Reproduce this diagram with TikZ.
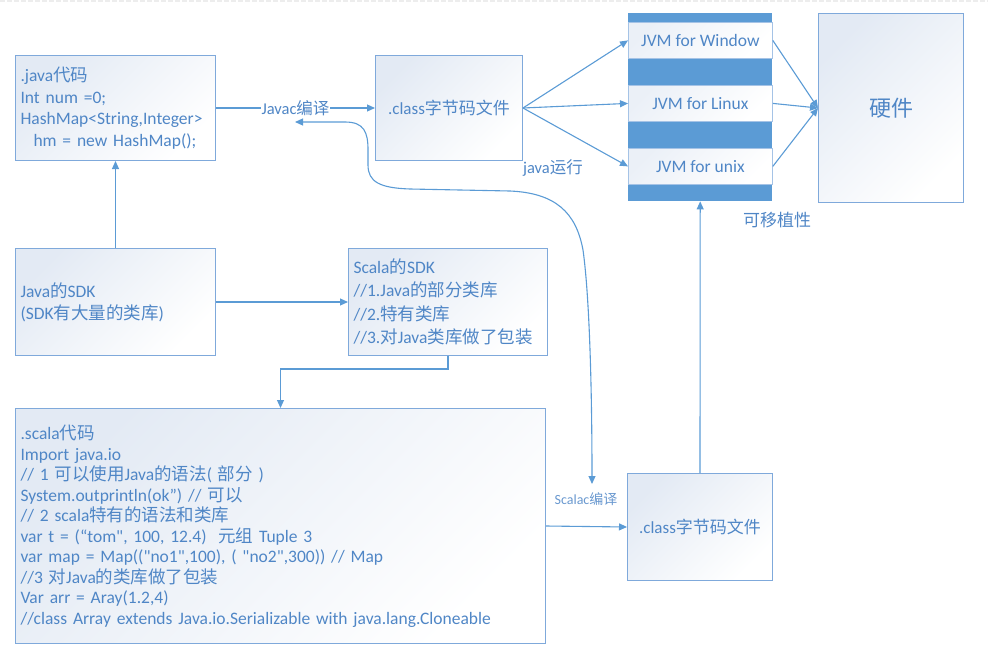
\documentclass[tikz,border=0pt]{standalone}
\usepackage{fontspec}
\setmainfont{Carlito}[Ligatures=TeXOff]
\newfontfamily\cjk{Noto Sans CJK SC}
\usetikzlibrary{arrows.meta}
\definecolor{txt}{HTML}{4F86C6}
\definecolor{bline}{HTML}{7FA9DB}
\definecolor{arrc}{HTML}{5B9BD5}
\definecolor{btop}{HTML}{E3EAF4}
\newcommand{\zh}[1]{{\cjk #1}}
\begin{document}
\begin{tikzpicture}[x=1pt,y=-1pt,
  box/.style={draw=bline, line width=1pt, top color=btop, bottom color=white, shading angle=45,
    text=txt, inner xsep=5pt, inner ysep=0pt, align=left, anchor=north west},
  jvmbox/.style={draw=bline!70, line width=0.8pt, top color=btop!70, bottom color=white, shading angle=45,
    text=txt, minimum width=144pt, minimum height=36pt, inner sep=0pt, anchor=north west,
    font=\fontsize{17.5}{20}\selectfont},
  arr/.style={draw=arrc, line width=1.1pt, -{Triangle[length=8pt,width=7pt]}},
  lbl/.style={text=txt, inner sep=1pt, font=\fontsize{16.5}{19}\selectfont}]
\useasboundingbox (0,0) rectangle (988,664);
\draw[black!7, dash pattern=on 5pt off 2pt, line width=1.5pt] (0,1) -- (988,1);

% boxes
\node[box, text width=190pt, minimum height=105pt, font=\fontsize{17.5}{21.5}\selectfont] (java) at (15,55)
  {.java\zh{代码}\\Int num =0;\\HashMap<String,Integer>\\\hspace*{13pt}hm = new HashMap();};
\node[box, align=center, minimum width=147pt, minimum height=105pt, font=\fontsize{17}{20}\selectfont] (cls1) at (375,55)
  {.class\zh{字节码文件}};
\node[fill=arrc, minimum width=144pt, minimum height=188pt, inner sep=0pt, anchor=north west] (jvm) at (628,13) {};
\node[jvmbox] (win) at (628,22) {JVM for Window};
\node[jvmbox] (lin) at (628,85) {JVM for Linux};
\node[jvmbox] (unx) at (628,148) {JVM for unix};
\node[box, align=center, minimum width=145pt, minimum height=189pt, font=\fontsize{22}{26}\selectfont] (hw) at (818,13)
  {\zh{硬件}};
\node[box, text width=190pt, minimum height=107pt, font=\fontsize{17.5}{22}\selectfont] (jsdk) at (15,248)
  {Java\zh{的}SDK\\(SDK\zh{有大量的类库})};
\node[box, text width=189pt, minimum height=107pt, font=\fontsize{17.5}{23.5}\selectfont] (ssdk) at (348,248)
  {Scala\zh{的}SDK\\//1.Java\zh{的部分类库}\\//2.\zh{特有类库}\\//3.\zh{对}Java\zh{类库做了包装}};
\node[box, text width=520pt, minimum height=235pt, font=\fontsize{17.5}{20.5}\selectfont] (scala) at (15,408)
  {.scala\zh{代码}\\
   Import java.io\\
   // 1 \zh{可以使用}Java\zh{的语法}( \zh{部分} )\\
   System.outprintln(ok”) // \zh{可以}\\
   // 2 scala\zh{特有的语法和类库}\\
   var t = (“tom", 100, 12.4)\ \ \zh{元组} Tuple 3\\
   var map = Map(("no1",100), ( "no2",300)) // Map\\
   //3 \zh{对}Java\zh{的类库做了包装}\\
   Var arr = Aray(1.2,4)\\
   //class Array extends Java.io.Serializable with java.lang.Cloneable};
\node[box, align=center, minimum width=145pt, minimum height=107pt, font=\fontsize{17}{20}\selectfont] (cls2) at (627,473)
  {.class\zh{字节码文件}};

% labels
\node[lbl] (jrun) at (553,168) {java\zh{运行}};
\node[lbl, font=\fontsize{17}{20}\selectfont] (port) at (777,220) {\zh{可移植性}};
\node[lbl, font=\fontsize{14}{17}\selectfont, text=txt!85] (scalac) at (586,499) {Scalac\zh{编译}};

% connectors
\draw[arr] (java.east) -- node[fill=white, lbl] (javac) {Javac\zh{编译}} (cls1.west);
\draw[arr] (jsdk.north) -- (java.south);
\draw[arr] (jsdk.east) -- (ssdk.west);
\draw[arr] (ssdk.south) -- ++(0,13) -| (scala.north);
\draw[arr] (cls1.east) -- (win.west);
\draw[arr] (cls1.east) -- (lin.west);
\draw[arr] (cls1.east) -- (unx.west);
\draw[arr] (win.east) -- (hw.west);
\draw[arr] (lin.east) -- (hw.west);
\draw[arr] (unx.east) -- (hw.west);
\draw[arr] (cls2.north) -- (jvm.south);
\draw[arr] (scala.east) -- (cls2.west);

\coordinate (cl) at (295,122);
\coordinate (cr) at (592,484);
\draw[draw=arrc, line width=1.1pt, {Triangle[length=8pt,width=7pt]}-{Triangle[length=8pt,width=7pt]}]
  (cl) -- (345,122) .. controls (364,122) and (368,132) .. (368,150) -- (368,165)
  .. controls (368,182) and (380,188) .. (410,189) -- (510,191)
  .. controls (555,193) and (576,212) .. (583,250)
  .. controls (590,300) and (592,400) .. (cr);
\end{tikzpicture}
\end{document}
